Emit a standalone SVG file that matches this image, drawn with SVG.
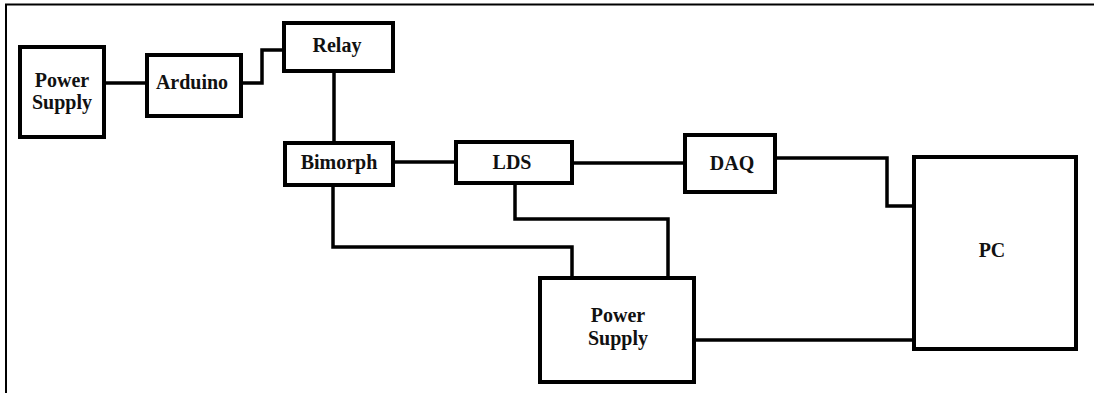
<svg xmlns="http://www.w3.org/2000/svg" width="1094" height="393" viewBox="0 0 1094 393">
<style>
.box{fill:#fff;stroke:#000;stroke-width:4}
.lbl{font-family:"Liberation Serif",serif;font-weight:bold;font-size:20px;fill:#111;text-anchor:middle}
.wire{fill:none;stroke:#000;stroke-width:3.5;stroke-linejoin:miter}
.frame{fill:none;stroke:#000;stroke-width:2}
</style>
<rect width="1094" height="393" fill="#fff"/>
<path class="frame" d="M6,393 V4.5 H1094"/>
<g id="connectors">
<path class="wire" d="M106,83 H145"/>
<path class="wire" d="M243,83 H262 V50 H282"/>
<path class="wire" d="M334,73 V141"/>
<path class="wire" d="M395,162 H454"/>
<path class="wire" d="M574,163 H683"/>
<path class="wire" d="M777,158 H887 V206 H912"/>
<path class="wire" d="M333,187 V247 H572 V276"/>
<path class="wire" d="M515,185 V219 H668 V276"/>
<path class="wire" d="M696,340 H912"/>
</g>
<g id="power1"><rect class="box" x="20" y="47" width="84" height="90"/><text class="lbl" x="62" y="87">Power</text><text class="lbl" x="62" y="109">Supply</text></g>
<g id="arduino"><rect class="box" x="147" y="55" width="94" height="61"/><text class="lbl" x="192" y="89">Arduino</text></g>
<g id="relay"><rect class="box" x="284" y="23" width="109" height="48"/><text class="lbl" x="337" y="52">Relay</text></g>
<g id="bimorph"><rect class="box" x="285" y="143" width="108" height="42"/><text class="lbl" x="339" y="169">Bimorph</text></g>
<g id="lds"><rect class="box" x="456" y="142" width="116" height="41"/><text class="lbl" x="512" y="169">LDS</text></g>
<g id="daq"><rect class="box" x="685" y="135" width="90" height="57"/><text class="lbl" x="732" y="170">DAQ</text></g>
<g id="pc"><rect class="box" x="914" y="157" width="162" height="192"/><text class="lbl" x="992" y="257">PC</text></g>
<g id="power2"><rect class="box" x="540" y="278" width="154" height="104"/><text class="lbl" x="618" y="322">Power</text><text class="lbl" x="618" y="345">Supply</text></g>
</svg>
